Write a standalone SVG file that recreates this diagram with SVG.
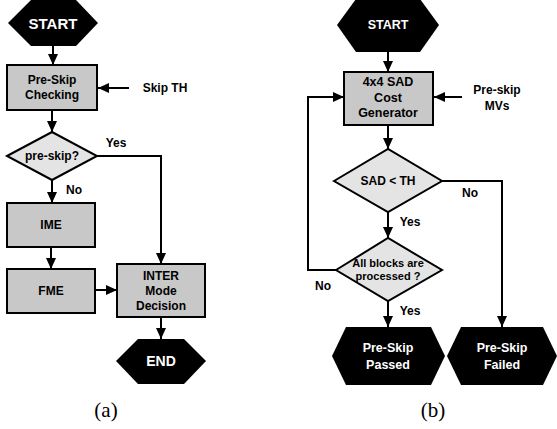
<svg xmlns="http://www.w3.org/2000/svg" width="557" height="429" viewBox="0 0 557 429">
<style>
.t{font-family:"Liberation Sans",Arial,sans-serif;font-weight:bold;font-size:12px;text-anchor:middle;dominant-baseline:central;fill:#000}
.w{fill:#fff}
.box{fill:#c8c8c8;stroke:#000;stroke-width:2}
.dia{fill:#e4e4e4;stroke:#000;stroke-width:2}
.hex{fill:#000}
.ln{fill:none;stroke:#000;stroke-width:2}
.ar{marker-end:url(#ah)}
.cap{font-family:"Liberation Serif","Times New Roman",serif;font-size:21px;text-anchor:middle;fill:#000}
</style>
<defs>
<marker id="ah" markerUnits="userSpaceOnUse" markerWidth="12" markerHeight="12" viewBox="0 0 12 12" refX="11" refY="6" orient="auto">
<path d="M0,1 L11,6 L0,11 Z" fill="#000"/>
</marker>
</defs>
<rect width="557" height="429" fill="#fff"/>
<g id="connectors">
<line class="ln ar" x1="53" y1="46" x2="53" y2="65"/>
<line class="ln ar" x1="129" y1="88" x2="98" y2="88"/>
<line class="ln ar" x1="52" y1="110" x2="52" y2="132"/>
<line class="ln ar" x1="52" y1="180" x2="52" y2="203"/>
<polyline class="ln ar" points="97,156 161,156 161,264"/>
<line class="ln ar" x1="51" y1="247" x2="51" y2="269"/>
<line class="ln ar" x1="95" y1="290" x2="117" y2="290"/>
<line class="ln ar" x1="161" y1="317" x2="161" y2="339"/>
<line class="ln ar" x1="388" y1="52" x2="388" y2="72"/>
<line class="ln ar" x1="462" y1="97" x2="434" y2="97"/>
<polyline class="ln ar" points="336,270 308,270 308,97 344,97"/>
<line class="ln ar" x1="388" y1="125" x2="388" y2="149"/>
<polyline class="ln ar" points="442,181 502,181 502,327"/>
<line class="ln ar" x1="388" y1="212" x2="388" y2="238"/>
<line class="ln ar" x1="388" y1="301" x2="388" y2="327"/>
<text class="t" x="116" y="143">Yes</text>
<text class="t" x="74" y="190">No</text>
<text class="t" x="470" y="193">No</text>
<text class="t" x="410" y="222">Yes</text>
<text class="t" x="323" y="286">No</text>
<text class="t" x="410" y="311">Yes</text>
<text class="t" x="165" y="88" style="font-size:12px">Skip TH</text>
<text class="t" x="497" y="90">Pre-skip</text>
<text class="t" x="497" y="106">MVs</text>
</g>
<g id="a-start">
<polygon class="hex" points="8,23 31,0 76,0 98,23 76,46 31,46"/>
<text class="t w" x="53" y="23" style="font-size:15px">START</text>
</g>
<g id="a-preskip">
<rect class="box" x="7" y="65" width="90" height="45"/>
<text class="t" x="52" y="80">Pre-Skip</text>
<text class="t" x="52" y="95">Checking</text>
</g>
<g id="a-decision">
<polygon class="dia" points="7,156 52,132 97,156 52,180"/>
<text class="t" x="52" y="156">pre-skip?</text>
</g>
<g id="a-ime">
<rect class="box" x="7" y="203" width="88" height="44"/>
<text class="t" x="51" y="225">IME</text>
</g>
<g id="a-fme">
<rect class="box" x="7" y="269" width="88" height="44"/>
<text class="t" x="51" y="291">FME</text>
</g>
<g id="a-inter">
<rect class="box" x="117" y="264" width="88" height="53"/>
<text class="t" x="161" y="276">INTER</text>
<text class="t" x="161" y="291">Mode</text>
<text class="t" x="161" y="306">Decision</text>
</g>
<g id="a-end">
<polygon class="hex" points="116,361 138,339 184,339 206,361 184,384 138,384"/>
<text class="t w" x="161" y="361" style="font-size:14px">END</text>
</g>
<g id="b-start">
<polygon class="hex" points="337,25 356,-1 420,-1 439,25 420,52 356,52"/>
<text class="t w" x="388" y="25" style="font-size:12.5px">START</text>
</g>
<g id="b-sad">
<rect class="box" x="344" y="72" width="89" height="53"/>
<text class="t" x="388" y="82" style="font-size:12.5px">4x4 SAD</text>
<text class="t" x="388" y="98" style="font-size:12.5px">Cost</text>
<text class="t" x="388" y="113" style="font-size:12.5px">Generator</text>
</g>
<g id="b-decision1">
<polygon class="dia" points="334,181 388,149 442,181 388,212"/>
<text class="t" x="388" y="181">SAD &lt; TH</text>
</g>
<g id="b-decision2">
<polygon class="dia" points="336,270 388,238 442,270 388,301"/>
<text class="t" x="388" y="263" style="font-size:11px">All blocks are</text>
<text class="t" x="388" y="276" style="font-size:11px">processed ?</text>
</g>
<g id="b-passed">
<polygon class="hex" points="332,356 346,327 431,327 445,356 431,385 346,385"/>
<text class="t w" x="388" y="348" style="font-size:12.5px">Pre-Skip</text>
<text class="t w" x="388" y="365" style="font-size:12.5px">Passed</text>
</g>
<g id="b-failed">
<polygon class="hex" points="447,356 461,327 543,327 557,356 543,385 461,385"/>
<text class="t w" x="502" y="348" style="font-size:12.5px">Pre-Skip</text>
<text class="t w" x="502" y="365" style="font-size:12.5px">Failed</text>
</g>
<text class="cap" x="106" y="417">(a)</text>
<text class="cap" x="433" y="417">(b)</text>
</svg>
